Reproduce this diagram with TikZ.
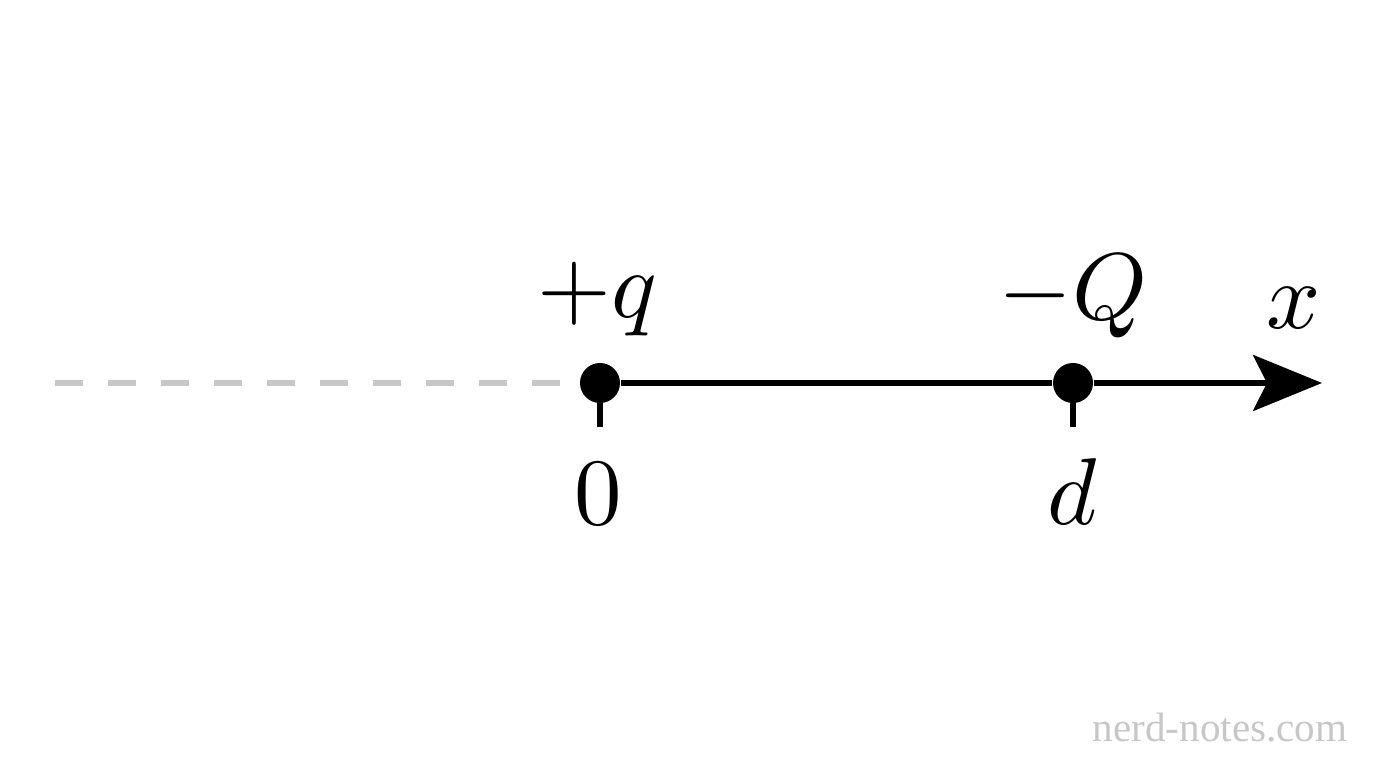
\documentclass[tikz,border=0pt]{standalone}
\usepackage{fontspec}
\newfontfamily\markfont{Liberation Serif}
\usetikzlibrary{arrows.meta,positioning}

\begin{document}
\begin{tikzpicture}[
  charge/.style={circle,fill=black,inner sep=0pt,minimum size=0.4cm},
  lbl/.style={anchor=base,inner sep=0pt,scale=2.7},
  thick line/.style={line width=0.055cm}]
  \useasboundingbox (0,0) rectangle (13.76,7.68);
  \coordinate (far) at (0.55,3.85);
  \coordinate (o) at (6.00,3.85);
  \coordinate (d) at (10.73,3.85);
  \coordinate (end) at (13.22,3.85);
  \draw[line width=0.06cm,black!22,dash pattern=on 0.275cm off 0.255cm] (far) -- (o);
  \node[charge] (q) at (o) {};
  \node[charge] (Q) at (d) {};
  \coordinate (t0) at (6.00,3.41);
  \coordinate (t1) at (10.73,3.41);
  \draw[thick line] (q) -- (Q);
  \draw[thick line,-{Stealth[length=0.69cm,width=0.56cm,inset=0.14cm]}] (Q) -- (end);
  \draw[thick line] (q.center) -- (t0);
  \draw[thick line] (Q.center) -- (t1);
  \node[lbl] (1) at (5.97,4.50) {$+q$};
  \node[lbl] (2) at (10.73,4.48) {$-Q$};
  \node[lbl] (3) at (12.94,4.39) {$x$};
  \node[lbl] (4) at (5.98,2.43) {$0$};
  \node[lbl] (5) at (10.72,2.43) {$d$};
  \node[anchor=base,inner sep=0pt,text=black!22,font=\markfont\fontsize{11.7}{14}\selectfont] (6) at (12.20,0.26) {nerd-notes.com};
\end{tikzpicture}
\end{document}
